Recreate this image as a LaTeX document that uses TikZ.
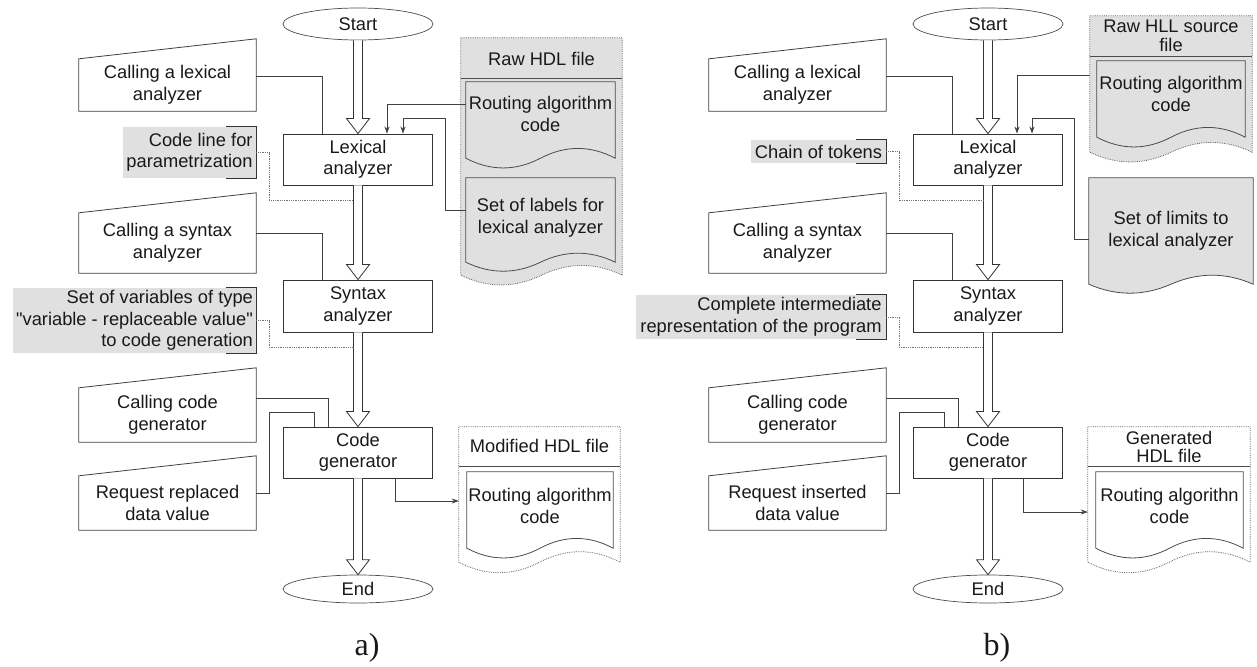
\documentclass[tikz,border=0pt]{standalone}
\usepackage{fontspec}
\setmainfont{Liberation Sans}[Ligatures=TeXOff]
\newfontfamily\capfont{Liberation Serif}
\usetikzlibrary{arrows.meta,positioning,calc,shapes.geometric,backgrounds}

% document outline with a wavy bottom, drawn round a named node
\newcommand{\docshape}[4]{%
  \coordinate (#2-se) at ([yshift=-#3pt]#2.south east);
  \coordinate (#2-sw) at ([yshift=-#3pt]#2.south west);
  \draw[#1] (#2.north west) -- (#2.north east) -- (#2-se)
    .. controls ($(#2-se)!0.1667!(#2-sw)+(0,-#4)$) and ($(#2-se)!0.3333!(#2-sw)+(0,-#4)$) .. ($(#2-se)!0.5!(#2-sw)$)
    .. controls ($(#2-se)!0.6667!(#2-sw)+(0,#4)$) and ($(#2-se)!0.8333!(#2-sw)+(0,#4)$) .. (#2-sw) -- cycle;}

\begin{document}
\begin{tikzpicture}[x=1pt, y=-1pt, >={Stealth[length=7pt,width=5pt]},
  every node/.style={font=\fontsize{18.3}{21.5}\selectfont, text=black!90},
  procbox/.style={draw=black!80, line width=0.9pt, minimum width=149pt, minimum height=51pt, align=center, inner sep=0pt},
  term/.style={ellipse, draw=black!70, line width=0.7pt, minimum width=150pt, inner sep=0pt},
  inbox/.style={minimum width=177pt, minimum height=52pt, align=center, inner sep=0pt},
  notebox/.style={fill=black!12, inner sep=0pt, align=right},
  docbox/.style={align=center, inner sep=0pt},
  headbox/.style={align=center, font=\fontsize{18.3}{18.5}\selectfont},
  inputline/.style={draw=black!75, line width=0.8pt},
  docline/.style={draw=black!70, line width=0.8pt},
  filedash/.style={draw=black!60, line width=0.8pt, densely dotted},
  bracket/.style={draw=black!80, line width=0.8pt},
  conn/.style={draw=black!75, line width=0.8pt},
  noteline/.style={draw=black!55, line width=0.8pt, densely dotted},
  fatarrow/.style={draw=black!80, line width=0.8pt, fill=white},
]
\useasboundingbox (0,0) rectangle (1257,666);

% the two flow columns
\foreach \p/\dx/\req in {a/0/replaced, b/630/inserted}{
\begin{scope}[xshift=\dx pt]
  \node[term, minimum height=32pt] (start\p) at (358,24) {Start};
  \node[procbox] (lex\p) at (358,159.5) {Lexical\\analyzer};
  \node[procbox, minimum height=52pt] (syn\p) at (358,306) {Syntax\\analyzer};
  \node[procbox] (gen\p) at (358,452.5) {Code\\generator};
  \node[term, minimum height=28pt] (end\p) at (358,589) {End};

  \node[inbox] (cla\p) at (167.5,85) {Calling a lexical\\analyzer};
  \node[inbox, minimum height=60pt] (cls\p) at (167.5,243) {Calling a syntax\\analyzer};
  \node[inbox, minimum height=54pt] (ccg\p) at (167.5,415) {Calling code\\generator};
  \node[inbox, minimum height=54pt] (req\p) at (167.5,503) {Request \req\\data value};
  \foreach \n in {cla, cls, ccg, req}
    \draw[inputline] (\n\p.south west) -- (\n\p.north west) -- ([yshift=20pt]\n\p.north east) -- (\n\p.south east) -- cycle;

  % inputs to the analyzers
  \draw[conn] ([yshift=9pt]cla\p.east) -| ([xshift=-36pt]lex\p.north);
  \draw[conn] ([yshift=10pt]cls\p.east) -| ([xshift=-36pt]syn\p.north);
  \draw[conn] ([yshift=17pt]ccg\p.east) -| ([xshift=-30pt]gen\p.north);
  \draw[conn] ([yshift=10pt]req\p.east) -- ++(13,0) |- ([xshift=-44pt,yshift=14pt]gen\p.north) -- ([xshift=-44pt]gen\p.north);

  % hollow flow arrows
  \foreach \u/\v in {start/lex, lex/syn, syn/gen, gen/end}
    \draw[fatarrow] ([xshift=-4.5pt]\u\p.south) -- ([xshift=-4.5pt,yshift=15pt]\v\p.north) -- ([xshift=-11.5pt,yshift=15pt]\v\p.north)
      -- (\v\p.north) -- ([xshift=11.5pt,yshift=15pt]\v\p.north) -- ([xshift=4.5pt,yshift=15pt]\v\p.north) -- ([xshift=4.5pt]\u\p.south);
\end{scope}}

% intermediate results
\node[notebox, minimum width=133pt, minimum height=51pt] (cpa) at (189.5,152.5) {Code line for\\parametrization};
\node[notebox, minimum width=243pt, minimum height=65pt] (vara) at (134.5,320.5) {Set of variables of type\\"variable - replaceable value"\\to code generation};
\node[notebox, minimum width=135pt, minimum height=23pt] (chb) at (818.5,151.5) {Chain of tokens};
\node[notebox, minimum width=250pt, minimum height=44pt] (repb) at (761,317) {Complete intermediate\\representation of the program};
\foreach \n in {cpa, vara, chb, repb}
  \draw[bracket] ([xshift=-30pt]\n.north east) -- (\n.north east) -- (\n.south east) -- ([xshift=-30pt]\n.south east);
\draw[noteline] (cpa.east) -- ++(13,0) |- ([xshift=-4.5pt,yshift=-15pt]lexa.south);
\draw[noteline] (vara.east) -- ++(13,0) |- ([xshift=-4.5pt,yshift=-15pt]syna.south);
\draw[noteline] (chb.east) -- ++(13,0) |- ([xshift=-4.5pt,yshift=-15pt]lexb.south);
\draw[noteline] (repb.east) -- ++(13,0) |- ([xshift=-4.5pt,yshift=-15pt]synb.south);

% files of panel a
\node[minimum width=161pt, minimum height=237pt, inner sep=0pt] (srca) at (541.5,156.5) {};
\node[headbox] (srcha) at (541.5,59) {Raw HDL file};
\node[docbox, minimum width=149pt, minimum height=64pt] (rouca) at (540.5,114) {Routing algorithm\\code};
\node[docbox, minimum width=149pt, minimum height=80pt] (labla) at (540.5,218) {Set of labels for\\lexical analyzer};
\node[minimum width=161pt, minimum height=135pt, inner sep=0pt] (outa) at (539.5,494.5) {};
\node[headbox] (outha) at (539.5,446) {Modified HDL file};
\node[docbox, minimum width=146pt, minimum height=68pt] (rouoa) at (540,506) {Routing algorithm\\code};

% files of panel b
\node[minimum width=162pt, minimum height=136pt, inner sep=0pt] (srcb) at (1171,84) {};
\node[headbox] (srchb) at (1171,36) {Raw HLL source\\file};
\node[docbox, minimum width=148pt, minimum height=66pt] (roucb) at (1171,94) {Routing algorithm\\code};
\node[docbox, minimum width=164pt, minimum height=106pt] (limb) at (1171,231) {Set of limits to\\lexical analyzer};
\node[minimum width=162pt, minimum height=135pt, inner sep=0pt] (outb) at (1169,494.5) {};
\node[headbox] (outhb) at (1169,447) {Generated\\HDL file};
\node[docbox, minimum width=147pt, minimum height=68pt] (rouob) at (1169.5,506) {Routing algorithn\\code};

\begin{scope}[on background layer]
  \docshape{filedash, fill=black!12}{srca}{0}{13}
  \docshape{docline, fill=black!12}{rouca}{12}{13}
  \docshape{docline, fill=black!12}{labla}{4}{12}
  \docshape{filedash}{outa}{0}{14}
  \docshape{docline}{rouoa}{8}{13}
  \docshape{filedash, fill=black!12}{srcb}{0}{13}
  \docshape{docline, fill=black!12}{roucb}{10}{13}
  \docshape{docline, fill=black!12}{limb}{0}{12}
  \docshape{filedash}{outb}{0}{14}
  \docshape{docline}{rouob}{8}{13}
\end{scope}
\foreach \n/\d in {srca/41, outa/40, srcb/41, outb/40}
  \draw[docline] ([yshift=-\d pt]\n.north west) -- ([yshift=-\d pt]\n.north east);

% file connections
\draw[conn, ->] ([yshift=10pt]rouca.west) -| ([xshift=29pt]lexa.north);
\draw[conn, ->] ([yshift=8pt]labla.west) -- ++(-20,0) |- ([xshift=45pt,yshift=15pt]lexa.north) -- ([xshift=45pt]lexa.north);
\draw[conn, ->] ([xshift=37pt]gena.south) |- ([yshift=-6.5pt]outa.west);
\draw[conn, ->] ([yshift=9pt]srcb.west) -| ([xshift=29pt]lexb.north);
\draw[conn, ->] ([yshift=-8pt]limb.west) -- ++(-14,0) |- ([xshift=44pt,yshift=15pt]lexb.north) -- ([xshift=44pt]lexb.north);
\draw[conn, ->] ([xshift=35pt]genb.south) |- ([yshift=-17.5pt]outb.west);

\node[font=\capfont\fontsize{32}{32}\selectfont] (capa) at (367,648) {a)};
\node[font=\capfont\fontsize{32}{32}\selectfont] (capb) at (997,648) {b)};
\end{tikzpicture}
\end{document}
